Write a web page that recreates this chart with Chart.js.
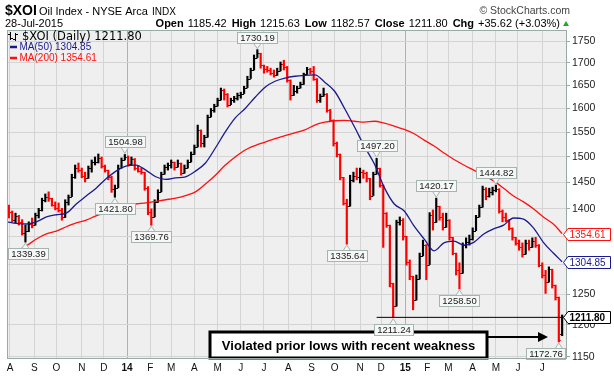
<!DOCTYPE html>
<html>
<head>
<meta charset="utf-8">
<script src="https://cdn.jsdelivr.net/npm/chart.js@4.4.1/dist/chart.umd.min.js"></script>
<style>
  html, body { margin: 0; padding: 0; background: #fff; }
</style>
</head>
<body>
<canvas id="myChart" width="614" height="377"></canvas>
<script>
// setup: one bar every 3 trading days, day 0 = 29-Jul-2013
const firstDay = 2;
const barStep = 3;
const firstOpen = 1398;
const lastOpen = 1185.42;

const highs = [
  1407,1396,1392,1388,1380,1370,1376,1383,1392,1401,
  1420,1428,1432,1420,1413,1411,1401,1417,1426,1466,
  1484,1488,1478,1470,1482,1494,1500,1506,1500,1484,
  1474,1462,1445,1484,1498,1504.98,1502,1500,1497,1482,
  1478,1470,1442,1400,1417,1436,1470,1484,1488,1494,
  1490,1494,1488,1484,1494,1510,1524,1565,1555,1544,
  1586,1600,1609,1622,1644,1642,1632,1622,1626,1633,
  1635,1648,1670,1688,1718,1730.19,1722,1695,1692,1688,
  1684,1688,1702,1706,1692,1662,1650,1648,1657,1677,
  1690,1688,1692,1665,1631,1644,1632,1598,1576,1530,
  1506,1460,1418,1464,1470,1478,1478,1474,1470,1458,
  1470,1497.2,1478,1445,1393,1370,1268,1379,1385,1382,
  1350,1308,1280,1282,1320,1343,1335,1393,1398,1420.17,
  1405,1392,1392,1380,1348,1320,1303,1338,1347,1352,
  1365,1388,1407,1443,1440,1439,1441,1444.82,1438,1398,
  1392,1380,1365,1348,1343,1338,1343,1343,1347,1348,
  1335,1303,1290,1296,1292,1265,1245,1215.63
];
const lows = [
  1383,1376,1374,1370,1352,1339.39,1358,1365,1370,1383,
  1396,1413,1414,1405,1398,1394,1379,1384,1407,1423,
  1458,1470,1459,1451,1458,1470,1484,1488,1478,1470,
  1455,1431,1421.8,1440,1478,1494,1482,1484,1474,1470,
  1466,1435,1389,1369.76,1385,1412,1432,1466,1474,1478,
  1474,1480,1464,1468,1478,1490,1505,1520,1520,1520,
  1540,1582,1592,1605,1618,1618,1603,1608,1613,1618,
  1622,1632,1645,1665,1684,1712,1688,1677,1679,1673,
  1668,1672,1682,1684,1657,1618,1628,1633,1644,1652,
  1674,1675,1661,1613,1613,1626,1592,1572,1522,1500,
  1455,1407,1335.64,1405,1451,1455,1449,1458,1451,1417,
  1425,1466,1441,1330,1366,1262,1211.24,1230,1370,1343,
  1299,1274,1224,1240,1275,1315,1274,1300,1361,1375,
  1379,1361,1366,1343,1317,1282,1258.5,1285,1329,1334,
  1343,1360,1385,1403,1417,1422,1426,1432,1392,1376,
  1376,1361,1343,1334,1325,1313,1318,1325,1330,1330,
  1296,1277,1251,1270,1260,1240,1172.76,1182.57
];
const closes = [
  1395,1380,1386,1375,1356,1360,1372,1370,1388,1398,
  1416,1422,1420,1408,1402,1398,1384,1412,1423,1460,
  1478,1475,1462,1458,1478,1490,1490,1498,1482,1474,
  1460,1437,1440,1478,1494,1500,1486,1496,1478,1472,
  1470,1440,1395,1385,1412,1432,1466,1480,1484,1490,
  1480,1488,1468,1478,1490,1505,1520,1555,1528,1540,
  1582,1596,1605,1618,1640,1630,1608,1618,1622,1628,
  1632,1645,1665,1684,1712,1722,1695,1686,1684,1678,
  1672,1682,1698,1690,1662,1628,1638,1644,1652,1674,
  1686,1682,1665,1618,1626,1632,1596,1576,1528,1506,
  1460,1410,1405,1455,1462,1460,1470,1468,1458,1425,
  1466,1478,1445,1392,1370,1268,1230,1375,1380,1350,
  1305,1280,1240,1275,1315,1335,1300,1388,1375,1405,
  1385,1366,1380,1348,1320,1290,1285,1335,1340,1345,
  1360,1385,1403,1438,1425,1432,1436,1438,1396,1385,
  1380,1365,1348,1338,1330,1318,1338,1330,1342,1335,
  1300,1282,1270,1292,1265,1245,1176.18,1211.80
];

// moving averages, sampled every 9 trading days
const maDays = [0,9,18,27,36,45,54,63,72,81,90,99,108,117,126,135,144,153,162,171,
  180,189,198,207,216,225,234,243,252,261,270,279,288,297,306,315,324,333,342,351,
  360,369,378,387,396,405,414,423,432,441,450,459,468,477,486,495,503];
const ma50 = [1376,1373,1372,1376,1385,1389,1392,1409,1424,1439,
  1457,1472,1482,1484,1474,1461,1456,1459,1461,1472,
  1488,1518,1551,1580,1600,1624,1646,1659,1666,1670,
  1672,1673,1657,1637,1600,1561,1521,1486,1440,1409,
  1396,1368,1345,1324,1338,1341,1334,1339,1354,1363,
  1370,1383,1381,1365,1339,1320,1304.85];
const ma200 = [1317,1324,1333,1345,1354,1359,1367,1374,1379,1387,
  1392,1398,1405,1409,1411,1414,1417,1420,1425,1432,
  1447,1464,1484,1500,1514,1523,1530,1537,1543,1549,
  1555,1565,1571,1574,1575,1573,1571,1573,1569,1563,
  1556,1547,1534,1522,1508,1495,1484,1474,1464,1453,
  1439,1424,1413,1400,1385,1372,1354.61];

// axes
const monthDays = [3,25,45,68,88,109,130,149,170,191,212,233,255,276,297,320,339,361,381,400,422,443,463,485];
const monthLabels = ['A','S','O','N','D','14','F','M','A','M','J','J','A','S','O','N','D','15','F','M','A','M','J','J'];
const priceTicks = [1150,1200,1250,1300,1350,1400,1450,1500,1550,1600,1650,1700,1750];
const dayMin = 0.3, dayMax = 507.4;
const priceMin = 1146.5, priceMax = 1776;

// marked highs / lows (bar number, value, above?)
const markBars = [5, 32, 35, 43, 75, 102, 111, 116, 129, 136, 147, 166];
const markValues = [1339.39, 1421.80, 1504.98, 1369.76, 1730.19, 1335.64, 1497.20, 1211.24, 1420.17, 1258.50, 1444.82, 1172.76];
const markAbove = [false, false, true, false, true, false, true, false, true, false, true, false];

// header numbers
const lastClose = 1211.80;
const quote = [['Open', '1185.42'], ['High', '1215.63'], ['Low', '1182.57'], ['Close', '1211.80'], ['Chg', '+35.62 (+3.03%)']];

// drawn line + note
const lineFromDay = 335;
const noteFromDay = 184, noteToDay = 435, noteTop = 1189.2;
const arrowToDay = 490.2, arrowValue = 1180.5;

const SANS = '"Liberation Sans", Arial, sans-serif';
const DEJAVU = '"DejaVu Sans", Verdana, sans-serif';
const UP = '#000000', DOWN = '#ff0000';
const NAVY = '#1a1a8c', RED = '#ff1010';

const opens = closes.map((c, i) => i === closes.length - 1 ? lastOpen : (i === 0 ? firstOpen : closes[i - 1]));
const barColors = closes.map((c, i) => c >= opens[i] ? UP : DOWN);

const ohlcTicks = {
  id: 'ohlcTicks',
  afterDatasetDraw(chart, args) {
    if (args.index !== 0) return;
    const {ctx, chartArea: a, scales: {y}} = chart;
    ctx.save();
    ctx.beginPath();
    ctx.rect(a.left, a.top, a.right - a.left, a.bottom - a.top);
    ctx.clip();
    ctx.lineWidth = 1;
    args.meta.data.forEach((bar, i) => {
      const yo = Math.round(y.getPixelForValue(opens[i])) + 0.5;
      const yc = Math.round(y.getPixelForValue(closes[i])) + 0.5;
      ctx.strokeStyle = barColors[i];
      ctx.beginPath();
      ctx.moveTo(bar.x - 2, yo); ctx.lineTo(bar.x, yo);
      ctx.moveTo(bar.x, yc); ctx.lineTo(bar.x + 2, yc);
      ctx.stroke();
    });
    ctx.restore();
  }
};

function markLabel(ctx, a, px, py, text, above) {
  ctx.font = '9.5px ' + SANS;
  const w = Math.ceil(ctx.measureText(text).width) + 5, h = 11;
  let bx = Math.round(px - w / 2);
  bx = Math.max(a.left + 1, Math.min(a.right - w - 2, bx));
  const by = above ? Math.round(py) - 7 - h : Math.round(py) + 6;
  ctx.fillStyle = '#f6f7f7';
  ctx.strokeStyle = '#a6b4b0';
  ctx.lineWidth = 1;
  ctx.beginPath();
  if (above) { ctx.moveTo(px - 4, by + h); ctx.lineTo(px, py - 1); ctx.lineTo(px + 4, by + h); }
  else { ctx.moveTo(px - 4, by + 1); ctx.lineTo(px, py + 1); ctx.lineTo(px + 4, by + 1); }
  ctx.fill(); ctx.stroke();
  ctx.fillRect(bx + 0.5, by + 0.5, w, h);
  ctx.strokeRect(bx + 0.5, by + 0.5, w, h);
  ctx.fillStyle = '#1a1a1a';
  ctx.textAlign = 'center';
  ctx.textBaseline = 'middle';
  ctx.fillText(text, bx + w / 2 + 0.5, by + h / 2 + 1);
}

function valueBox(ctx, a, py, text, color, bold) {
  const y0 = Math.round(py) + 0.5, h = 6;
  ctx.beginPath();
  ctx.moveTo(a.right - 3.5, y0);
  ctx.lineTo(a.right + 1, y0 - h);
  ctx.lineTo(a.right + 43.5, y0 - h);
  ctx.lineTo(a.right + 43.5, y0 + h);
  ctx.lineTo(a.right + 1, y0 + h);
  ctx.closePath();
  ctx.fillStyle = '#fff';
  ctx.fill();
  ctx.strokeStyle = color;
  ctx.lineWidth = 1;
  ctx.stroke();
  ctx.font = (bold ? 'bold ' : '') + '10px ' + SANS;
  ctx.fillStyle = color;
  ctx.textAlign = 'left';
  ctx.textBaseline = 'middle';
  ctx.fillText(text, a.right + 2.5, y0 + 0.5);
}

const decor = {
  id: 'decor',
  beforeDraw(chart) {
    const {ctx, chartArea: a} = chart;
    ctx.save();
    ctx.fillStyle = '#efefef';
    ctx.fillRect(a.left, a.top, a.right - a.left, a.bottom - a.top);
    ctx.restore();
  },
  afterDatasetsDraw(chart) {
    const {ctx, chartArea: a, scales: {x, y}} = chart;
    const bars = chart.getDatasetMeta(0).data;
    ctx.save();
    // note box
    const nx1 = Math.round(x.getPixelForValue(noteFromDay)), nx2 = Math.round(x.getPixelForValue(noteToDay));
    const ny1 = Math.round(y.getPixelForValue(noteTop)), ny2 = Math.round(a.bottom) - 1;
    ctx.fillStyle = '#fff';
    ctx.fillRect(nx1, ny1, nx2 - nx1, ny2 - ny1);
    ctx.strokeStyle = '#000';
    ctx.lineWidth = 3;
    ctx.strokeRect(nx1, ny1, nx2 - nx1, ny2 - ny1);
    ctx.font = 'bold 13px ' + SANS;
    ctx.fillStyle = '#000';
    ctx.textAlign = 'center';
    ctx.textBaseline = 'middle';
    ctx.fillText('Violated prior lows with recent weakness', (nx1 + nx2) / 2, (ny1 + ny2) / 2 + 1);
    // arrow
    const ay = Math.round(y.getPixelForValue(arrowValue)), ax2 = x.getPixelForValue(arrowToDay);
    ctx.lineWidth = 2;
    ctx.beginPath();
    ctx.moveTo(nx2 + 1, ay); ctx.lineTo(ax2 - 8, ay);
    ctx.stroke();
    ctx.beginPath();
    ctx.moveTo(ax2, ay); ctx.lineTo(ax2 - 10, ay - 5); ctx.lineTo(ax2 - 10, ay + 5);
    ctx.closePath();
    ctx.fill();
    // high / low marks on top
    markBars.forEach((b, i) => {
      markLabel(ctx, a, bars[b].x, y.getPixelForValue(markValues[i]), markValues[i].toFixed(2), markAbove[i]);
    });
    ctx.restore();
  },
  afterDraw(chart) {
    const {ctx, chartArea: a, scales: {y}} = chart;
    ctx.save();
    // frame
    ctx.strokeStyle = '#9aaaa4';
    ctx.lineWidth = 1;
    ctx.strokeRect(a.left + 0.5, a.top + 0.5, a.right - a.left - 1, a.bottom - a.top - 1);
    // value boxes at right
    valueBox(ctx, a, y.getPixelForValue(ma200[ma200.length - 1]), ma200[ma200.length - 1].toFixed(2), RED, false);
    valueBox(ctx, a, y.getPixelForValue(ma50[ma50.length - 1]), ma50[ma50.length - 1].toFixed(2), NAVY, false);
    valueBox(ctx, a, y.getPixelForValue(lastClose), lastClose.toFixed(2), '#000', true);

    // header
    ctx.textBaseline = 'alphabetic';
    ctx.textAlign = 'left';
    ctx.fillStyle = '#000';
    ctx.font = 'bold 14px ' + SANS;
    ctx.fillText('$XOI', 5, 15);
    ctx.font = '11px ' + SANS;
    ctx.fillText('Oil Index - NYSE Arca', 39, 15);
    ctx.font = '10px ' + SANS;
    ctx.fillText('INDX', 152, 15);
    ctx.font = '10.5px ' + SANS;
    ctx.fillStyle = '#444';
    ctx.textAlign = 'right';
    ctx.fillText('\u00A9 StockCharts.com', 570, 14);

    ctx.textAlign = 'left';
    ctx.fillStyle = '#000';
    ctx.font = '11px ' + SANS;
    ctx.fillText('28-Jul-2015', 5, 27);
    // quote line, laid out right to left
    let parts = [];
    quote.forEach(([k, v]) => { parts.push([k, true, 4]); parts.push([v, false, 5]); });
    let widths = parts.map(([t, b]) => { ctx.font = (b ? 'bold ' : '') + '11px ' + SANS; return ctx.measureText(t).width; });
    let total = widths.reduce((s, w, i) => s + w + (i < parts.length - 1 ? parts[i][2] : 0), 0);
    let qx = 560 - total;
    parts.forEach(([t, b, g], i) => {
      ctx.font = (b ? 'bold ' : '') + '11px ' + SANS;
      ctx.fillText(t, qx, 27);
      qx += widths[i] + g;
    });
    ctx.fillStyle = '#1faa1f';
    ctx.beginPath();
    ctx.moveTo(563, 26); ctx.lineTo(569, 26); ctx.lineTo(566, 21);
    ctx.closePath();
    ctx.fill();

    // legend inside plot
    ctx.strokeStyle = '#000';
    ctx.lineWidth = 1;
    ctx.beginPath();
    ctx.moveTo(10.5, 32); ctx.lineTo(10.5, 40); ctx.moveTo(8, 34.5); ctx.lineTo(10.5, 34.5);
    ctx.moveTo(10.5, 38.5); ctx.lineTo(13, 38.5);
    ctx.moveTo(15.5, 33); ctx.lineTo(15.5, 41); ctx.moveTo(13, 39.5); ctx.lineTo(15.5, 39.5);
    ctx.moveTo(15.5, 34.5); ctx.lineTo(18, 34.5);
    ctx.stroke();
    ctx.textBaseline = 'middle';
    ctx.fillStyle = '#000';
    ctx.font = '11.5px ' + DEJAVU;
    ctx.fillText('$XOI (Daily) ' + lastClose.toFixed(2), 22, 37);
    ctx.font = '10px ' + SANS;
    ctx.lineWidth = 2.5;
    ctx.strokeStyle = NAVY;
    ctx.beginPath(); ctx.moveTo(10, 47); ctx.lineTo(17, 47); ctx.stroke();
    ctx.fillStyle = NAVY;
    ctx.fillText('MA(50) ' + ma50[ma50.length - 1].toFixed(2), 19.5, 47.5);
    ctx.strokeStyle = RED;
    ctx.beginPath(); ctx.moveTo(10, 58); ctx.lineTo(17, 58); ctx.stroke();
    ctx.fillStyle = RED;
    ctx.fillText('MA(200) ' + ma200[ma200.length - 1].toFixed(2), 19.5, 58.5);
    ctx.restore();
  }
};

// config
const data = {
  datasets: [
    {
      type: 'bar',
      data: highs.map((h, i) => ({x: firstDay + i * barStep, y: [lows[i], h]})),
      backgroundColor: barColors,
      borderWidth: 0,
      barThickness: 1.5,
      order: 3
    },
    {
      type: 'line',
      data: maDays.map((d, i) => ({x: d, y: ma200[i]})),
      borderColor: RED,
      borderWidth: 1.3,
      pointRadius: 0,
      cubicInterpolationMode: 'monotone',
      order: 2
    },
    {
      type: 'line',
      data: maDays.map((d, i) => ({x: d, y: ma50[i]})),
      borderColor: NAVY,
      borderWidth: 1.3,
      pointRadius: 0,
      cubicInterpolationMode: 'monotone',
      order: 1
    },
    {
      type: 'line',
      data: [{x: lineFromDay, y: lastClose}, {x: dayMax, y: lastClose}],
      borderColor: '#000',
      borderWidth: 1,
      pointRadius: 0,
      order: 0
    }
  ]
};

const config = {
  type: 'bar',
  data,
  options: {
    responsive: false,
    animation: false,
    events: [],
    layout: { padding: { left: 7, top: 30, right: 0, bottom: 0 } },
    plugins: { legend: { display: false }, tooltip: { enabled: false } },
    scales: {
      x: {
        type: 'linear',
        min: dayMin,
        max: dayMax,
        offset: false,
        bounds: 'data',
        afterBuildTicks: (s) => { s.ticks = monthDays.map(v => ({value: v})); },
        afterFit: (s) => { s.height = 18; },
        ticks: {
          autoSkip: false,
          maxRotation: 0,
          padding: 3,
          color: '#111',
          font: (c) => ({family: SANS, size: 10, weight: /\d/.test(monthLabels[c.index] || '') ? 'bold' : 'normal'}),
          callback: (v, i) => monthLabels[i]
        },
        grid: {
          offset: false,
          drawTicks: false,
          color: (c) => /\d/.test(monthLabels[monthDays.indexOf(c.tick && c.tick.value)] || '') ? '#b0b0b0' : '#d4d4d4'
        },
        border: { display: false }
      },
      y: {
        type: 'logarithmic',
        position: 'right',
        min: priceMin,
        max: priceMax,
        bounds: 'data',
        afterBuildTicks: (s) => { s.ticks = priceTicks.map(v => ({value: v})); },
        afterFit: (s) => { s.width = 47; },
        ticks: {
          autoSkip: false,
          padding: 2,
          color: '#222',
          font: {family: SANS, size: 10.5},
          callback: (v) => String(v)
        },
        grid: { color: '#d4d4d4', tickLength: 3, tickColor: '#9aaaa4' },
        border: { display: false }
      }
    }
  },
  plugins: [ohlcTicks, decor]
};

// render init block
const myChart = new Chart(document.getElementById('myChart'), config);
</script>
</body>
</html>
